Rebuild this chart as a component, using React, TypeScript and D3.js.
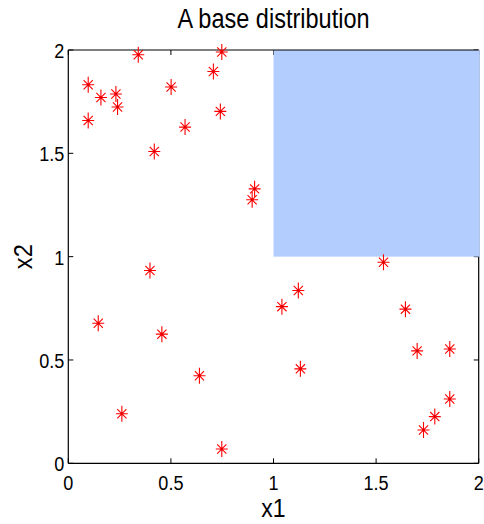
import React from "react";
import * as d3 from "d3";

const x1Values = [0.097, 0.097, 0.159, 0.232, 0.240, 0.341, 0.419, 0.501, 0.569, 0.707, 0.748, 0.741, 0.908, 0.896, 1.536, 0.398, 0.146, 0.456, 0.639, 0.261, 0.748, 1.041, 1.121, 1.131, 1.643, 1.700, 1.859, 1.859, 1.786, 1.731];
const x2Values = [1.832, 1.659, 1.770, 1.787, 1.724, 1.977, 1.509, 1.821, 1.627, 1.896, 1.990, 1.703, 1.328, 1.275, 0.973, 0.933, 0.678, 0.625, 0.424, 0.240, 0.069, 0.758, 0.836, 0.457, 0.746, 0.544, 0.553, 0.311, 0.226, 0.161];
const xTicks = [0, 0.5, 1, 1.5, 2];
const yTicks = [0, 0.5, 1, 1.5, 2];
const regionX = [1, 2];
const regionY = [1, 2];
const title = "A base distribution";
const xLabel = "x1";
const yLabel = "x2";

const W = 484;
const H = 524;
const left = 68.3;
const right = 478.7;
const top = 50;
const bottom = 463.3;

export default function App() {
  const x = d3.scaleLinear().domain([0, 2]).range([left, right]);
  const y = d3.scaleLinear().domain([0, 2]).range([bottom, top]);
  const font = "'Liberation Sans', Arial, Helvetica, sans-serif";
  const tickLen = 5;
  const sx = 0.86;
  const star = "M0,-8V8M-6,0H6M-4.6,-4.6L4.6,4.6M-4.6,4.6L4.6,-4.6";

  return (
    <svg width={W} height={H} style={{ position: "absolute", left: 0, top: 0, background: "#fff" }} fontFamily={font}>
      {/* ticks */}
      {xTicks.map((t) => (
        <g key={"xt" + t} stroke="#000" strokeWidth={1}>
          <line x1={x(t)} x2={x(t)} y1={bottom} y2={bottom - tickLen} />
          <line x1={x(t)} x2={x(t)} y1={top} y2={top + tickLen} />
        </g>
      ))}
      {yTicks.map((t) => (
        <g key={"yt" + t} stroke="#000" strokeWidth={1}>
          <line x1={left} x2={left + tickLen} y1={y(t)} y2={y(t)} />
          <line x1={right} x2={right - tickLen} y1={y(t)} y2={y(t)} />
        </g>
      ))}
      {/* box */}
      <line x1={left} x2={left} y1={top} y2={bottom} stroke="#000" strokeWidth={1.2} />
      <line x1={left} x2={right} y1={bottom} y2={bottom} stroke="#000" strokeWidth={1.2} />
      <line x1={right} x2={right} y1={top} y2={bottom} stroke="#000" strokeWidth={1.2} />
      {/* region */}
      <rect
        x={x(regionX[0])}
        y={y(regionY[1])}
        width={x(regionX[1]) - x(regionX[0]) + 1}
        height={y(regionY[0]) - y(regionY[1])}
        fill="#b3cdff"
      />
      <line x1={left} x2={right} y1={top} y2={top} stroke="#000" strokeWidth={1.2} />
      {/* points */}
      {x1Values.map((v, i) => (
        <g key={"p" + i} transform={`translate(${x(v)},${y(x2Values[i])})`}>
          <path d={star} stroke="#ff0000" strokeWidth={1.1} fill="none" />
          <circle r={1.3} fill="#e00000" />
        </g>
      ))}
      {/* tick labels */}
      {xTicks.map((t) => (
        <text
          key={"xl" + t}
          transform={`translate(${x(t)},${490}) scale(${sx},1)`}
          textAnchor="middle"
          fontSize={21}
          fill="#000"
        >
          {String(t)}
        </text>
      ))}
      {yTicks.map((t) => (
        <text
          key={"yl" + t}
          transform={`translate(${left - 4},${y(t) + 8}) scale(${sx},1)`}
          textAnchor="end"
          fontSize={21}
          fill="#000"
        >
          {String(t)}
        </text>
      ))}
      {/* title */}
      <text
        transform={`translate(${(left + right) / 2},${28}) scale(0.84,1)`}
        textAnchor="middle"
        fontSize={28}
        fill="#000"
      >
        {title}
      </text>
      {/* axis labels */}
      <text
        transform={`translate(${(left + right) / 2},${517}) scale(0.92,1)`}
        textAnchor="middle"
        fontSize={25}
        fill="#000"
      >
        {xLabel}
      </text>
      <text
        transform={`translate(${32},${(top + bottom) / 2}) rotate(-90) scale(0.95,1)`}
        textAnchor="middle"
        fontSize={25}
        fill="#000"
      >
        {yLabel}
      </text>
    </svg>
  );
}
